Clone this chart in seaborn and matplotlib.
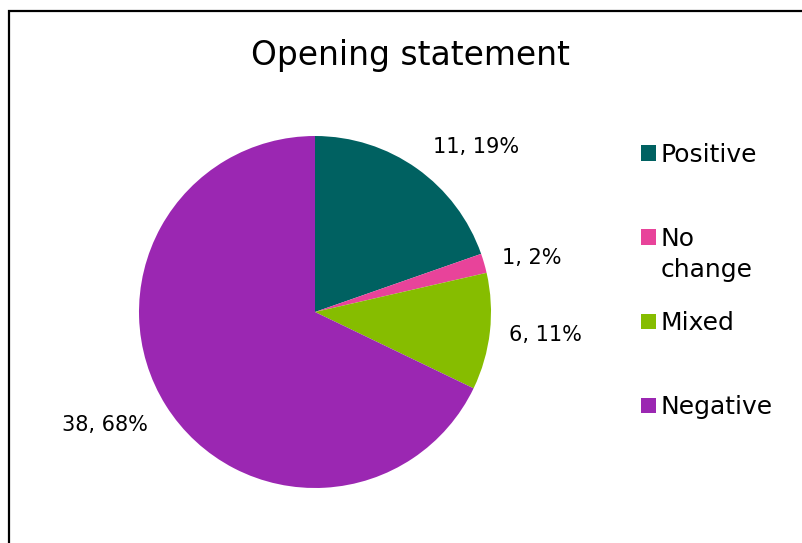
import matplotlib
matplotlib.use("Agg")
import matplotlib.pyplot as plt
from matplotlib.patches import Rectangle
import seaborn as sns

categories = ["Positive", "No change", "Mixed", "Negative"]
legend_labels = ["Positive", "No\nchange", "Mixed", "Negative"]
counts = [11, 1, 6, 38]
percent_labels = ["11, 19%", "1, 2%", "6, 11%", "38, 68%"]
colors = ["#006161", "#E8439A", "#86BD00", "#9B27B2"]

sns.set_theme(style="white")
plt.rcParams["font.family"] = ["DejaVu Sans"]

W, H = 803, 543
fig = plt.figure(figsize=(W / 100, H / 100), dpi=100)
fig.patch.set_facecolor("white")

# pie: centre (315, 312) px, radius 176 px
R = 176
cx, cy = 315, H - 312
lim = 1.3
ax = fig.add_axes([(cx - lim * R) / W, (cy - lim * R) / H, 2 * lim * R / W, 2 * lim * R / H])
ax.pie(counts, colors=sns.color_palette(colors), startangle=90, counterclock=False,
       radius=1, wedgeprops=dict(linewidth=0))
ax.set_xlim(-lim, lim)
ax.set_ylim(-lim, lim)
ax.set_aspect("equal")
ax.axis("off")

# data labels (positions in data units of the pie)
label_pos = [(0.915, 0.94), (1.233, 0.307), (1.307, -0.131), (-1.193, -0.642)]
for txt, (x, y) in zip(percent_labels, label_pos):
    ax.text(x, y, txt, ha="center", va="center", fontsize=15, color="black")

fig.text(410 / W, 1 - 56 / H, "Opening statement", ha="center", va="center",
         fontsize=23.7, color="black")

# legend drawn by hand, entries evenly spaced like the original
y0, step, line_h = 153, 84, 31
sq = 15
for i, (lab, col) in enumerate(zip(legend_labels, colors)):
    yc = y0 + i * step
    fig.add_artist(Rectangle((641 / W, 1 - (yc + sq / 2) / H), sq / W, sq / H,
                             transform=fig.transFigure, facecolor=col, edgecolor="none"))
    for k, line in enumerate(lab.split("\n")):
        fig.text(661 / W, 1 - (yc + 9 + k * line_h) / H, line, ha="left", va="baseline",
                 fontsize=18, color="black")

# chart frame (left and top edges visible)
fig.add_artist(Rectangle((9 / W, -0.1), 1.5, 1.1 - 11 / H, transform=fig.transFigure,
                         fill=False, edgecolor="black", linewidth=1.6))

fig.savefig("out.png", dpi=100)
